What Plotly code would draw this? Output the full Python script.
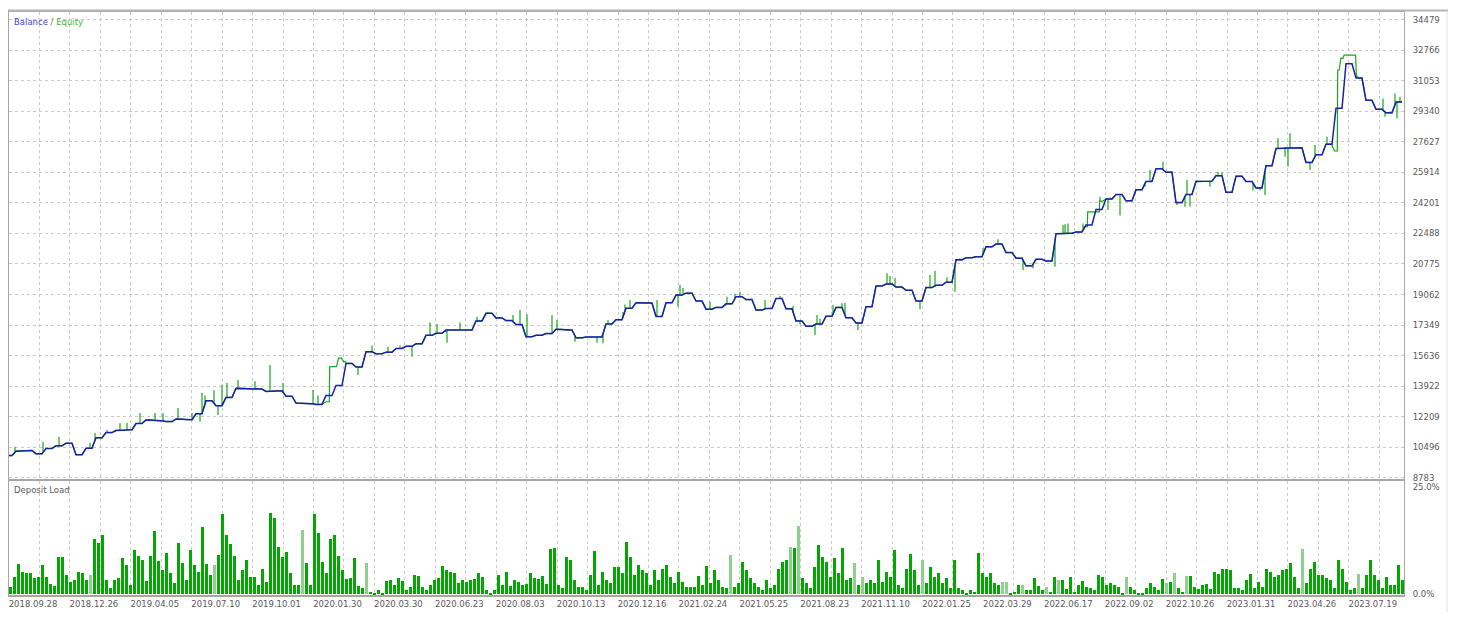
import numpy as np
import plotly.graph_objects as go

# ---------------- data ----------------
date_labels = ["2018.09.28", "2018.12.26", "2019.04.05", "2019.07.10", "2019.10.01",
               "2020.01.30", "2020.03.30", "2020.06.23", "2020.08.03", "2020.10.13",
               "2020.12.16", "2021.02.24", "2021.05.25", "2021.08.23", "2021.11.10",
               "2022.01.25", "2022.03.29", "2022.06.17", "2022.09.02", "2022.10.26",
               "2023.01.31", "2023.04.26", "2023.07.19"]

price_ticks = [34479, 32766, 31053, 29340, 27627, 25914, 24201, 22488, 20775,
               19062, 17349, 15636, 13922, 12209, 10496, 8783]

# balance, one reading every 10 deals
balance = [10030, 10280, 10320, 10130, 10430, 10580, 10720, 10080, 10440, 11030,
           11320, 11440, 11480, 11830, 12030, 11990, 11940, 12080, 12040, 12380,
           13110, 12830, 13290, 13800, 13780, 13760, 13630, 13670, 13360, 12975,
           12945, 12900, 13400, 13960, 15200, 15000, 15850, 15745, 15830, 16035,
           16160, 16300, 16775, 16890, 17073, 17073, 17070, 17580, 18007, 17750,
           17600, 17380, 16697, 16780, 16875, 17110, 17070, 16635, 16680, 16680,
           17410, 17650, 18290, 18600, 18585, 17830, 18600, 19030, 19140, 18700,
           18240, 18340, 18540, 18940, 18780, 18190, 18280, 18840, 18260, 17580,
           17290, 17410, 17840, 18340, 17760, 17470, 18380, 19540, 19650, 19480,
           19300, 18700, 19450, 19580, 19750, 21010, 21125, 21185, 21735, 21890,
           21415, 21100, 20670, 21035, 20940, 22470, 22500, 22565, 22960, 23830,
           24420, 24670, 24315, 24940, 25400, 26115, 25920, 24220, 24670, 25405,
           25420, 25725, 24790, 25700, 25400, 25040, 26285, 27250, 27290, 27290,
           26470, 26900, 27490, 29500, 32000, 31200, 29950, 29450, 29250, 29850]
balance_step = 10

# equity excursions (deal number, equity value)
eq_spike_deal = [6, 34, 50, 81, 86, 98, 111, 118, 131, 146, 154, 169, 183, 191, 193,
                 196, 205, 209, 213, 218, 229, 246, 261, 274, 304, 309, 349, 363, 379, 391,
                 403, 421, 428, 438, 451, 468, 479, 504, 511, 518, 543, 548, 566, 588, 594,
                 599, 614, 616, 621, 648, 669, 671, 674, 701, 718, 726, 731, 756, 771, 784,
                 791, 806, 808, 811, 824, 833, 836, 849, 878, 881, 886, 911, 921, 926, 938,
                 946, 951, 974, 989, 1014, 1024, 1046, 1054, 1056, 1059, 1074, 1079, 1091,
                 1099, 1101, 1111, 1136, 1141, 1154, 1168, 1176, 1178, 1181, 1188, 1201,
                 1209, 1213, 1244, 1251, 1256, 1258, 1269, 1276, 1279, 1281, 1301, 1306,
                 1318, 1374, 1376, 1386, 1388, 1391]
eq_spike_val = [10530, 10810, 11090, 10750, 11300, 11466, 11860, 11860, 12420, 12420,
                12420, 12700, 12420, 11930, 13560, 13400, 13700, 12310, 13990, 14100,
                14270, 14200, 15110, 14100, 13709, 13400, 14550, 16200, 16140, 16200,
                15580, 17500, 17410, 16360, 17500, 17820, 18100, 17910, 18200, 17950,
                17910, 17634, 16420, 16360, 16330, 17634, 18100, 18500, 18755, 18755,
                18380, 19600, 19430, 18660, 18940, 19100, 19220, 18760, 18980, 18420,
                17400, 16790, 17910, 17700, 18470, 18570, 18600, 17073, 20250, 20100,
                20000, 18240, 20160, 20400, 20030, 19220, 21100, 21650, 22160, 20437,
                20530, 20620, 22960, 23000, 23050, 23050, 23700, 24550, 23800, 24500,
                23500, 25100, 26044, 26510, 24080, 23990, 25484, 24000, 25480, 25100,
                25950, 25900, 24900, 24900, 24643, 26324, 27820, 26790, 26230, 28100,
                26044, 27446, 27910, 30060, 29030, 30340, 28940, 30150]

# stretches where equity runs ahead of balance
plateau_a_deal = [320, 321, 326, 331, 336, 338]
plateau_a_val = [13050, 15015, 15015, 15500, 15300, 15200]
plateau_b_deal = [1078, 1079, 1090, 1091]
plateau_b_val = [22865, 23700, 23700, 24300]
plateau_c_deal = [1328, 1329, 1333, 1336, 1346, 1348]
plateau_c_val = [27110, 31652, 32300, 32490, 32490, 31300]

# deposit load (%), one bar every 4 deals
load = [1.8, 4.0, 7.0, 5.3, 4.9, 5.0, 3.9, 4.0, 6.8, 4.1,
        2.5, 2.0, 8.8, 8.6, 4.5, 2.9, 3.3, 5.3, 4.9, 3.3,
        4.5, 13.0, 11.9, 13.8, 3.3, 1.5, 3.3, 3.7, 8.4, 6.8,
        2.2, 10.3, 8.9, 8.0, 3.0, 8.9, 14.8, 7.8, 5.7, 9.7,
        4.9, 2.6, 12.0, 7.2, 3.3, 10.3, 6.8, 5.3, 15.7, 7.0,
        4.5, 6.8, 9.1, 18.6, 13.8, 11.7, 8.9, 3.3, 5.7, 8.1,
        4.1, 4.1, 2.2, 6.0, 2.9, 19.0, 17.7, 11.1, 8.6, 9.9,
        4.9, 2.2, 2.2, 15.1, 7.4, 2.2, 18.7, 14.2, 7.6, 5.0,
        12.8, 13.8, 9.0, 5.7, 3.5, 3.7, 8.4, 2.0, 1.4, 7.2,
        0.6, 0.4, 0.9, 0.4, 3.0, 3.3, 2.2, 3.7, 3.2, 1.0,
        1.6, 4.5, 4.3, 1.8, 1.0, 2.2, 3.3, 3.7, 6.6, 5.7,
        5.3, 5.0, 2.6, 3.3, 2.9, 3.3, 3.5, 4.9, 4.0, 0.9,
        0.4, 0.9, 4.5, 2.2, 5.3, 2.0, 3.3, 2.9, 2.2, 2.5,
        4.9, 3.7, 3.5, 4.3, 2.4, 10.5, 10.9, 2.2, 1.4, 8.6,
        8.0, 3.3, 1.8, 1.6, 1.0, 4.5, 10.1, 2.2, 5.3, 3.3,
        2.6, 6.3, 6.4, 4.9, 12.2, 8.6, 4.5, 6.8, 5.7, 4.9,
        2.2, 5.7, 3.3, 6.0, 6.8, 4.1, 2.6, 5.3, 2.9, 1.8,
        1.8, 1.8, 4.3, 2.2, 6.6, 2.7, 5.7, 3.3, 1.8, 1.4,
        9.1, 1.8, 2.6, 7.6, 5.7, 3.7, 2.6, 1.8, 1.0, 3.3,
        1.4, 2.2, 6.0, 7.6, 8.0, 11.1, 10.7, 15.9, 3.7, 2.6,
        1.4, 6.4, 11.6, 8.6, 7.5, 4.1, 8.4, 5.0, 10.9, 3.3,
        3.7, 7.2, 2.2, 4.1, 2.6, 3.3, 2.6, 8.1, 2.9, 5.3,
        4.1, 10.3, 2.2, 1.4, 5.8, 9.3, 5.7, 2.2, 8.1, 2.6,
        6.4, 4.1, 5.0, 2.6, 3.7, 1.4, 8.1, 1.4, 0.9, 0.4,
        0.9, 0.6, 9.7, 4.9, 4.1, 5.0, 2.6, 2.2, 2.9, 2.9,
        0.4, 0.6, 2.2, 2.2, 1.0, 1.0, 3.7, 1.9, 0.9, 1.6,
        0.6, 4.1, 3.3, 3.3, 1.2, 4.1, 0.6, 2.2, 3.2, 1.8,
        1.4, 1.0, 4.5, 4.1, 2.2, 2.7, 2.2, 1.8, 0.4, 4.1,
        1.8, 1.0, 0.4, 0.4, 1.4, 2.7, 1.8, 1.0, 3.5, 2.6,
        2.9, 4.9, 1.4, 0.6, 4.3, 4.3, 1.8, 1.2, 2.2, 2.4,
        1.2, 5.3, 4.7, 5.8, 6.0, 5.7, 1.4, 1.5, 1.0, 3.3,
        4.7, 1.4, 2.9, 1.6, 6.0, 5.3, 4.1, 4.5, 5.7, 6.0,
        7.2, 4.1, 1.4, 10.5, 2.6, 6.0, 7.6, 4.5, 4.5, 3.9,
        3.3, 1.4, 8.1, 5.8, 2.8, 1.0, 1.4, 4.7, 1.4, 4.5,
        8.0, 4.5, 3.3, 1.4, 4.0, 2.2, 2.2, 6.8, 3.3]
load_step = 4
load_light_idx = [20, 51, 73, 89, 180, 195, 197, 211, 213, 228, 248, 249, 253,
                  259, 262, 279, 289, 291, 294, 323, 337]


# ---------------- build series ----------------
def flat_top_path(xs, ys, half=3.0):
    """Each reading is held for a short stretch, then the line moves to the next one."""
    X, Y = [], []
    n = len(xs)
    for i in range(n):
        hl = half if i == 0 else min(half, 0.3 * (xs[i] - xs[i - 1]))
        hr = half if i == n - 1 else min(half, 0.3 * (xs[i + 1] - xs[i]))
        X += [xs[i] - hl, xs[i] + hr]
        Y += [ys[i], ys[i]]
    return X, Y


bal_x = (np.arange(len(balance)) * balance_step).tolist()
bal_px, bal_py = flat_top_path(bal_x, balance)

pts = list(zip(bal_x, balance))
for pdeal, pval in [(plateau_a_deal, plateau_a_val),
                    (plateau_b_deal, plateau_b_val),
                    (plateau_c_deal, plateau_c_val)]:
    lo, hi = pdeal[0], pdeal[-1]
    pts = [p for p in pts if not (lo <= p[0] <= hi)] + list(zip(pdeal, pval))
pts.sort(key=lambda p: p[0])
eq_px, eq_py = flat_top_path([p[0] for p in pts], [p[1] for p in pts])

spikes = sorted(zip(eq_spike_deal, eq_spike_val))
eq_x, eq_y = [], []
j = 0
for x, y in zip(eq_px, eq_py):
    while j < len(spikes) and spikes[j][0] < x:
        k, s = spikes[j]
        base = float(np.interp(k, eq_px, eq_py))
        eq_x += [k, k, k]
        eq_y += [base, s, base]
        j += 1
    eq_x.append(x)
    eq_y.append(y)

load_x = np.arange(len(load)) * load_step + 1.5
light_set = set(load_light_idx)
dark_x = [load_x[i] for i in range(len(load)) if i not in light_set]
dark_y = [load[i] for i in range(len(load)) if i not in light_set]
light_x = [load_x[i] for i in load_light_idx]
light_y = [load[i] for i in load_light_idx]

# ---------------- figure ----------------
GRID = "#c9c9c9"
FRAME = "#a6a6a6"
TXT = "#5a5a5a"
FONT = "DejaVu Sans"

fig = go.Figure()
fig.add_trace(go.Scatter(x=eq_x, y=eq_y, mode="lines", name="Equity",
                         line=dict(color="#18a818", width=1.2), xaxis="x", yaxis="y",
                         hoverinfo="skip"))
fig.add_trace(go.Scatter(x=bal_px, y=bal_py, mode="lines", name="Balance",
                         line=dict(color="#1a20a8", width=1.5), xaxis="x", yaxis="y"))
fig.add_trace(go.Bar(x=dark_x, y=dark_y, width=3.7, marker=dict(color="#00a800", line=dict(width=0)),
                     xaxis="x2", yaxis="y2", name="Deposit Load"))
fig.add_trace(go.Bar(x=light_x, y=light_y, width=3.7, marker=dict(color="#8fd08f", line=dict(width=0)),
                     xaxis="x2", yaxis="y2", name="Deposit Load (light)"))

n_grid = 46
grid_vals = [30.45 * k for k in range(n_grid)]
grid_text = [date_labels[k // 2] if k % 2 == 0 and k // 2 < len(date_labels) else ""
             for k in range(n_grid)]

# page has an 8px body margin, so the figure itself starts at (8, 8)
W, H = 1449, 626
ml, mr, mt, mb = 1, 53, 4, 39
pw = W - ml - mr
ph = H - mt - mb
main_bottom = (H - mb - 471) / ph
load_top = (H - mb - 473) / ph

fig.update_layout(
    width=W, height=H,
    margin=dict(l=ml, r=mr, t=mt, b=mb),
    paper_bgcolor="white", plot_bgcolor="white",
    showlegend=False, barmode="overlay", bargap=0,
    font=dict(family=FONT, size=8.5, color=TXT),
    xaxis=dict(domain=[0, 1], range=[0, 1395], anchor="y",
               tickvals=grid_vals, showticklabels=False, ticks="",
               showgrid=True, gridcolor=GRID, griddash="dot", gridwidth=1,
               showline=True, linecolor=FRAME, linewidth=1.5, mirror=True, zeroline=False),
    yaxis=dict(domain=[main_bottom, 1], range=[8719, 34903], anchor="x", side="right",
               tickvals=price_ticks, ticktext=[str(v) for v in price_ticks], ticks="",
               showgrid=True, gridcolor=GRID, griddash="dot", gridwidth=1,
               showline=True, linecolor=FRAME, linewidth=1, mirror=True, zeroline=False,
               ticklabelstandoff=6, tickfont=dict(family=FONT, size=8.5, color=TXT)),
    xaxis2=dict(domain=[0, 1], range=[0, 1395], anchor="y2", matches="x",
                tickvals=grid_vals, ticktext=grid_text, ticks="", ticklabelshift=24,
                showgrid=True, gridcolor=GRID, griddash="dot", gridwidth=1,
                showline=True, linecolor=FRAME, linewidth=1.5, mirror=True, zeroline=False,
                tickangle=0, tickfont=dict(family=FONT, size=8.5, color=TXT)),
    yaxis2=dict(domain=[0, load_top], range=[-0.15, 26.4], anchor="x2", side="right",
                tickvals=[0, 25], ticktext=["0.0%", "25.0%"], ticks="",
                showgrid=False, showline=True, linecolor=FRAME, linewidth=1, mirror=True,
                zeroline=False, ticklabelstandoff=6,
                tickfont=dict(family=FONT, size=8.5, color=TXT)),
    annotations=[
        dict(xref="paper", yref="paper", x=3 / pw, y=1 - 3 / ph,
             xanchor="left", yanchor="top", showarrow=False,
             text='<span style="color:#4747b5">Balance</span>'
                  '<span style="color:#7a7a7a"> / </span>'
                  '<span style="color:#3db83d">Equity</span>',
             font=dict(family=FONT, size=8.5)),
        dict(xref="paper", yref="paper", x=3 / pw, y=load_top - 2 / ph,
             xanchor="left", yanchor="top", showarrow=False, text="Deposit Load",
             font=dict(family=FONT, size=8.5, color=TXT)),
    ],
    shapes=[
        dict(type="line", xref="paper", yref="paper", x0=-ml / pw,
             x1=(1440 - ml) / pw, y0=1 + 1.5 / ph, y1=1 + 1.5 / ph,
             line=dict(color="#b4b4b4", width=2)),
        dict(type="line", xref="paper", yref="paper", x0=(1439 - ml) / pw,
             x1=(1439 - ml) / pw, y0=1 + 1.5 / ph, y1=-(604 - (H - mb)) / ph,
             line=dict(color="#e2e2e2", width=1)),
    ],
)

fig.write_html("out.html")
